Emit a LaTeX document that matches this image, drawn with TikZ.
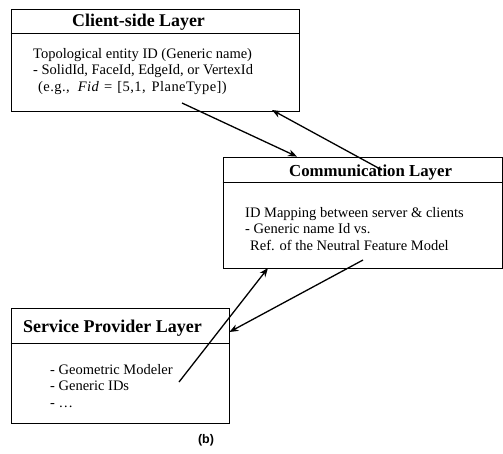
\documentclass[tikz,border=0pt]{standalone}
\usepackage{fontspec}
\setmainfont{Liberation Serif}
\newfontfamily\capfont{Liberation Sans}
\newfontfamily\spacedfont[LetterSpace=3]{Liberation Serif}
\usetikzlibrary{arrows.meta}

\tikzset{
  layerbox/.style={draw, line width=0.8pt, inner sep=0pt},
  headrule/.style={line width=0.8pt},
  title/.style={anchor=base west, inner sep=0pt, font=\bfseries},
  body/.style={anchor=base west, inner sep=0pt, font=\fontsize{14.5}{16.5}\selectfont},
  link/.style={line width=1.3pt, -{Stealth[length=9pt,width=7pt]}},
}

\begin{document}
\begin{tikzpicture}[x=1pt, y=-1pt]
  \useasboundingbox (0,0) rectangle (503,453);

  % layer boxes
  \node[layerbox, minimum width=288pt, minimum height=102pt] (client)  at (155,60) {};
  \node[layerbox, minimum width=279pt, minimum height=111pt] (comm)    at (362.5,212.5) {};
  \node[layerbox, minimum width=218pt, minimum height=115pt] (service) at (120,365.5) {};

  % header separators
  \draw[headrule] (client.west |- 0,33)  -- (client.east |- 0,33);
  \draw[headrule] (comm.west |- 0,182)   -- (comm.east |- 0,182);
  \draw[headrule] (service.west |- 0,343) -- (service.east |- 0,343);

  % titles
  \node[title] (clienttitle)  at (72,26)   {\fontsize{17.9}{20}\selectfont Client-side Layer};
  \node[title] (commtitle)    at (289,176) {\fontsize{16.8}{19}\selectfont Communication Layer};
  \node[title] (servicetitle) at (23,332)  {\fontsize{18}{20}\selectfont Service Provider Layer};

  % contents
  \node[body] (clientbody) at (33,58) {\begin{tabular}[t]{@{}l@{}}
    Topological entity ID (Generic name)\\
    - SolidId, FaceId, EdgeId, or VertexId\\
    \hspace{5pt}{\spacedfont (e.g.,\hspace{8pt}\textit{Fid}\hspace{5pt}=\hspace{5pt}[5,1,\hspace{6pt}PlaneType])}
  \end{tabular}};
  \node[body] (commbody) at (245,217) {\begin{tabular}[t]{@{}l@{}}
    ID Mapping between server \& clients\\
    - Generic name Id vs.\\
    \hspace{5pt}Ref. of the Neutral Feature Model
  \end{tabular}};
  \node[body] (servicebody) at (50,374) {\begin{tabular}[t]{@{}l@{}}
    - Geometric Modeler\\
    - Generic IDs\\
    - \dots
  \end{tabular}};

  % arrow end points
  \coordinate (c1) at (182,103);
  \coordinate (c2) at (382,170);
  \coordinate (c3) at (179,382);
  \coordinate (c4) at (363,260);

  % connectors
  \draw[link] (c1) -- (comm.north -| 297,0);
  \draw[link] (c2) -- (272,110);
  \draw[link] (c3) -- (268,268);
  \draw[link] (c4) -- (service.east |- 0,332);

  % caption
  \node[font=\capfont\fontsize{12.5}{14}\selectfont\bfseries, anchor=base] (cap) at (206,443) {(b)};
\end{tikzpicture}
\end{document}
